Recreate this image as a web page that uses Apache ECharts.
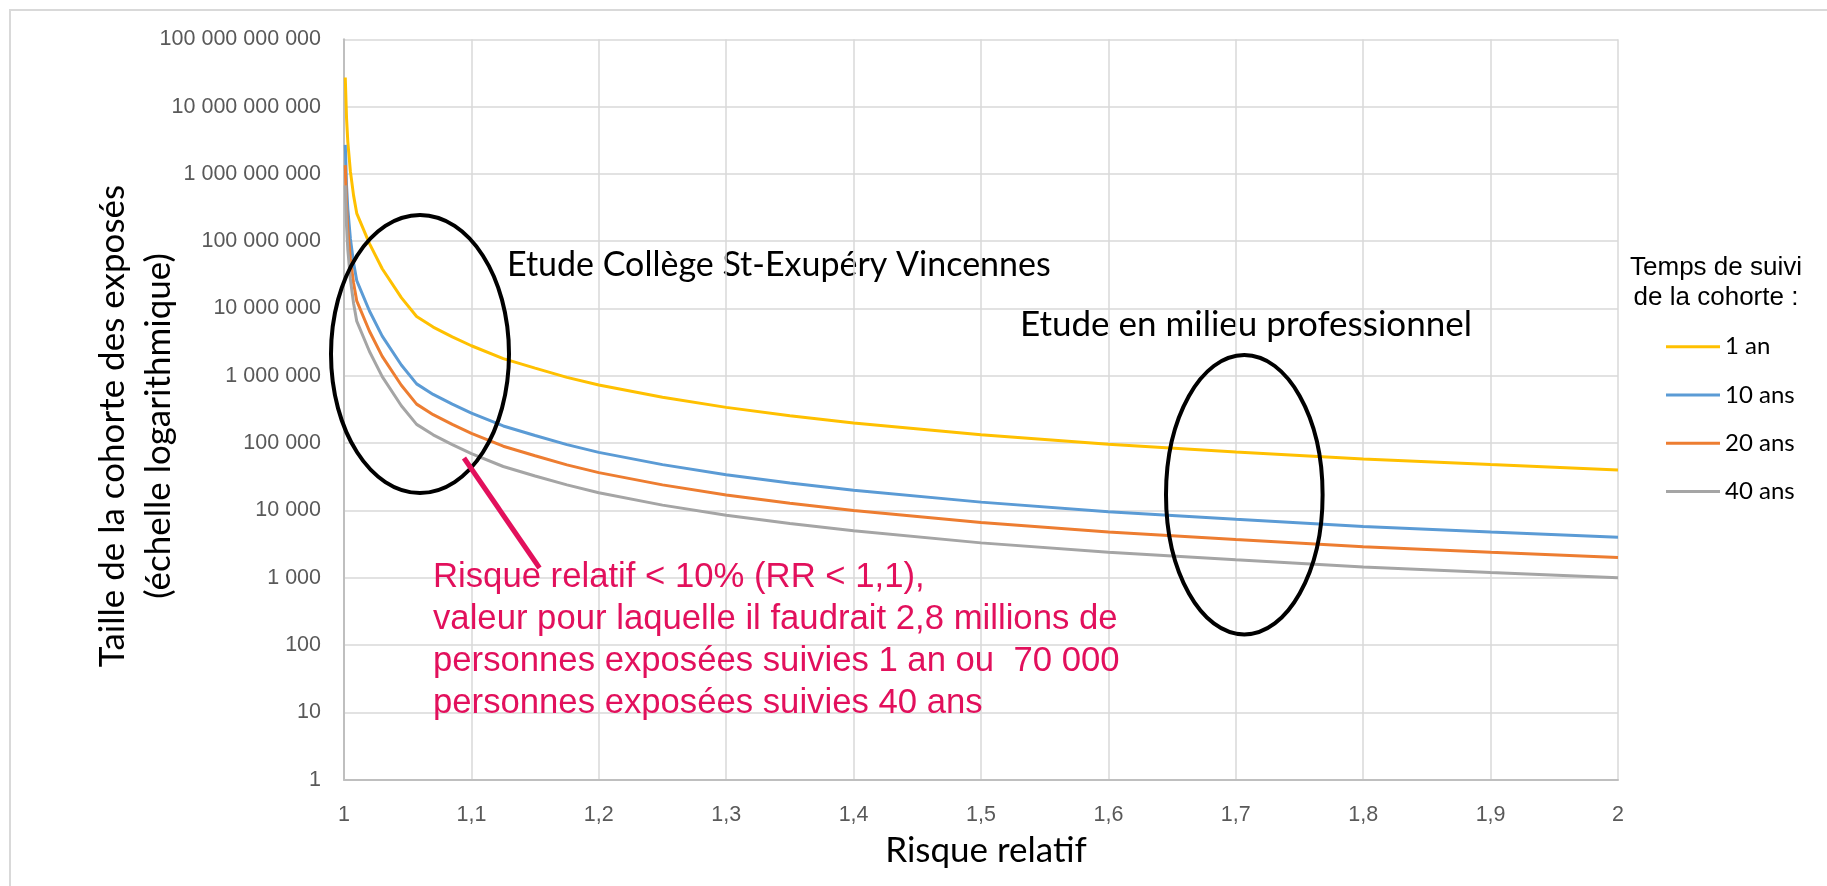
<!DOCTYPE html>
<html>
<head>
<meta charset="utf-8">
<script src="https://cdn.jsdelivr.net/npm/echarts@6/dist/echarts.min.js"></script>
<style>
  html, body { margin: 0; padding: 0; background: #fff; }
  #chart { width: 1827px; height: 886px; }
</style>
</head>
<body>
<div id="chart"></div>
<script>
// Risque relatif (x) and required cohort size
const risqueRelatif = [1.001, 1.002, 1.003, 1.005, 1.0075, 1.01, 1.02, 1.03, 1.045, 1.057, 1.07, 1.085,
  1.1, 1.125, 1.15, 1.175, 1.2, 1.25, 1.3, 1.35, 1.4, 1.5, 1.6, 1.7, 1.8, 1.9, 2];

const suivi1an = [27000000000, 6700000000, 3000000000, 1100000000, 480000000, 260000000, 92000000, 39000000,
  14500000, 7600000, 5300000, 3800000, 2800000, 1800000, 1300000, 950000, 730000, 480000, 340000, 256000,
  200000, 133000, 96000, 74000, 58000, 48000, 40000];
const suivi10ans = [2700000000, 670000000, 300000000, 110000000, 48000000, 26000000, 9200000, 3900000,
  1450000, 760000, 530000, 380000, 280000, 180000, 130000, 95000, 73000, 48000, 34000, 25600,
  20000, 13300, 9600, 7400, 5800, 4800, 4000];
const suivi20ans = [1350000000, 335000000, 150000000, 55000000, 24000000, 13000000, 4600000, 1950000,
  725000, 380000, 265000, 190000, 140000, 90000, 65000, 47500, 36500, 24000, 17000, 12800,
  10000, 6650, 4800, 3700, 2900, 2400, 2000];
const suivi40ans = [675000000, 168000000, 75000000, 27500000, 12000000, 6500000, 2300000, 975000,
  360000, 190000, 133000, 95000, 70000, 45000, 32500, 24000, 18300, 12000, 8500, 6400,
  5000, 3300, 2400, 1850, 1450, 1200, 1000];

const seriesNames = ['1 an', '10 ans', '20 ans', '40 ans'];
const seriesValues = [suivi1an, suivi10ans, suivi20ans, suivi40ans];
const seriesColors = ['#FFC000', '#5B9BD5', '#ED7D31', '#A5A5A5'];

const annotationRed = '#E2105C';

function formatThousands(v) {
  return Math.round(v).toString().replace(/\B(?=(\d{3})+(?!\d))/g, ' ');
}

function formatRR(v) {
  return String(+v.toFixed(1)).replace('.', ',');
}

const chart = echarts.init(document.getElementById('chart'));

chart.setOption({
  animation: false,
  backgroundColor: '#fff',
  grid: { left: 344, top: 39.3, width: 1274, height: 740.4 },
  xAxis: {
    type: 'value',
    min: 1,
    max: 2,
    interval: 0.1,
    axisLine: { show: true, lineStyle: { color: '#BFBFBF', width: 2 } },
    axisTick: { show: false },
    axisLabel: {
      margin: 24,
      color: '#595959',
      fontFamily: 'Liberation Sans',
      fontSize: 21.5,
      formatter: formatRR
    },
    splitLine: { show: true, lineStyle: { color: '#D9D9D9', width: 1.5 } }
  },
  yAxis: {
    type: 'log',
    logBase: 10,
    min: 1,
    max: 100000000000,
    interval: 1,
    axisLine: { show: true, lineStyle: { color: '#BFBFBF', width: 2 } },
    axisTick: { show: false },
    axisLabel: {
      margin: 23,
      color: '#595959',
      fontFamily: 'Liberation Sans',
      fontSize: 21.5,
      formatter: formatThousands
    },
    splitLine: { show: true, lineStyle: { color: '#D9D9D9', width: 1.5 } }
  },
  legend: {
    orient: 'vertical',
    left: 1666,
    top: 334.7,
    padding: 0,
    icon: 'rect',
    itemWidth: 54,
    itemHeight: 3,
    itemGap: 24.3,
    selectedMode: false,
    textStyle: { fontFamily: 'Lato', fontSize: 24, color: '#000', lineHeight: 24 },
    data: seriesNames
  },
  series: seriesNames.map((name, i) => ({
    name: name,
    type: 'line',
    symbol: 'none',
    showSymbol: false,
    color: seriesColors[i],
    lineStyle: { color: seriesColors[i], width: 3 },
    data: risqueRelatif.map((x, j) => [x, seriesValues[i][j]])
  })),
  graphic: [
    // outer chart frame
    { type: 'rect', silent: true, shape: { x: 10, y: 10, width: 1840, height: 900 },
      style: { fill: 'none', stroke: '#D9D9D9', lineWidth: 2 } },
    // axis titles
    { type: 'text', silent: true, x: 136, y: 426, rotation: Math.PI / 2,
      style: { text: 'Taille de la cohorte des exposés\n(échelle logarithmique)', font: '35px Lato',
        fill: '#000', align: 'center', verticalAlign: 'middle', lineHeight: 46 } },
    { type: 'text', silent: true, x: 986, y: 851,
      style: { text: 'Risque relatif', font: '35px Lato', fill: '#000', align: 'center', verticalAlign: 'middle' } },
    // legend title
    { type: 'text', silent: true, x: 1716, y: 283.3,
      style: { text: 'Temps de suivi\nde la cohorte :', font: '26px "Liberation Sans"', fill: '#000',
        align: 'center', verticalAlign: 'middle', lineHeight: 30 } },
    // study annotations
    { type: 'text', silent: true, x: 507, y: 265.5,
      style: { text: 'Etude Collège St-Exupéry Vincennes', font: '34px Lato', fill: '#000', align: 'left', verticalAlign: 'middle' } },
    { type: 'text', silent: true, x: 1020, y: 325,
      style: { text: 'Etude en milieu professionnel', font: '35px Lato', fill: '#000', align: 'left', verticalAlign: 'middle' } },
    { type: 'ellipse', silent: true, z: 100, shape: { cx: 420, cy: 354, rx: 89, ry: 139 },
      style: { fill: 'none', stroke: '#000', lineWidth: 4 } },
    { type: 'ellipse', silent: true, z: 100, shape: { cx: 1244.3, cy: 494.7, rx: 78.3, ry: 139.7 },
      style: { fill: 'none', stroke: '#000', lineWidth: 4 } },
    // red pointer and note
    { type: 'line', silent: true, z: 100, shape: { x1: 464, y1: 458, x2: 539.5, y2: 568 },
      style: { stroke: annotationRed, lineWidth: 5 } },
    { type: 'text', silent: true, z: 100, x: 433, y: 557,
      style: {
        text: 'Risque relatif < 10% (RR < 1,1),\nvaleur pour laquelle il faudrait 2,8 millions de\npersonnes exposées suivies 1 an ou  70 000\npersonnes exposées suivies 40 ans',
        font: '34.7px "Liberation Sans"', fill: annotationRed, align: 'left', verticalAlign: 'top', lineHeight: 41.7
      } }
  ]
});
</script>
</body>
</html>
